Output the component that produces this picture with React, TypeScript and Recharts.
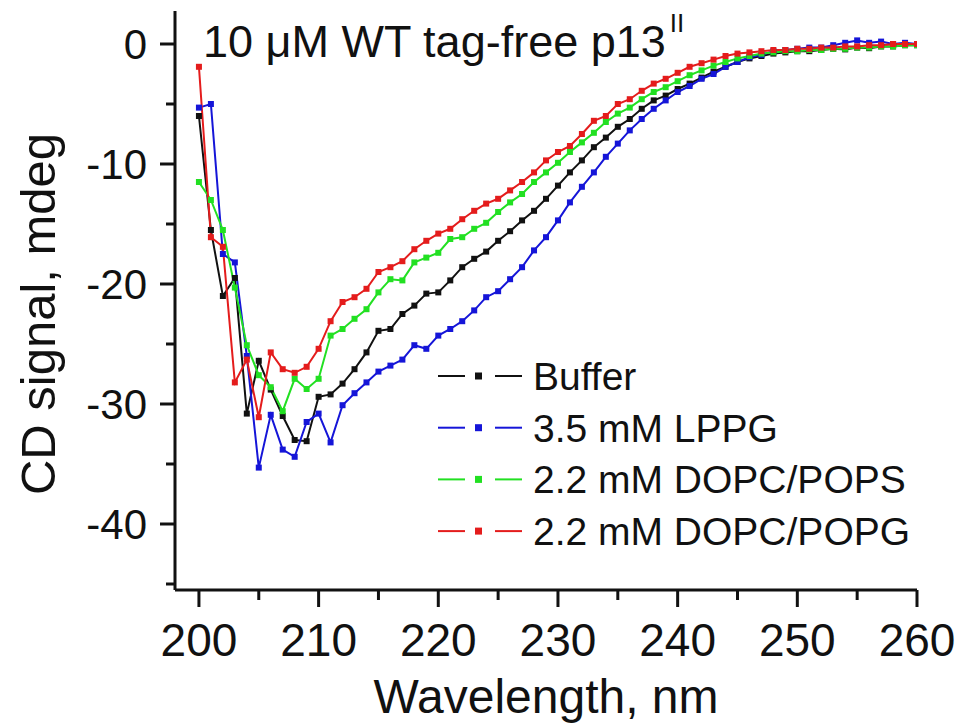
import { Line, LineChart, XAxis, YAxis } from 'recharts';

// wavelength, nm
const wavelength = [
  200, 201, 202, 203, 204, 205, 206, 207, 208, 209, 210, 211, 212, 213, 214, 215, 216, 217, 218, 219, 220,
  221, 222, 223, 224, 225, 226, 227, 228, 229, 230, 231, 232, 233, 234, 235, 236, 237, 238, 239, 240,
  241, 242, 243, 244, 245, 246, 247, 248, 249, 250, 251, 252, 253, 254, 255, 256, 257, 258, 259, 260,
];

// CD signal, mdeg
const buffer = [
  -6.0, -15.5, -21.0, -19.5, -30.8, -26.4, -28.8, -31.0, -33.0, -33.1, -29.4, -29.2, -28.3, -27.1, -25.7, -23.9, -23.75, -22.5, -21.8, -20.8, -20.7,
  -19.7, -18.6, -17.9, -17.3, -16.4, -15.6, -14.7, -13.9, -12.9, -11.8, -10.7, -9.7, -8.6, -7.8, -6.9, -6.25, -5.4, -4.7, -4.3, -3.75,
  -3.3, -2.8, -2.3, -1.9, -1.5, -1.2, -1.0, -0.8, -0.7, -0.6, -0.6, -0.5, -0.4, -0.45, -0.3, -0.35, -0.2, -0.2, -0.1, -0.1,
];
const lppg = [
  -5.3, -5.0, -17.5, -18.2, -26.0, -35.3, -30.9, -33.8, -34.4, -31.5, -30.8, -33.2, -30.1, -29.1, -28.2, -27.3, -26.8, -26.3, -25.1, -25.4, -24.3,
  -23.75, -23.1, -22.2, -21.1, -20.6, -19.6, -18.6, -17.2, -16.1, -14.7, -13.2, -11.9, -10.7, -9.4, -8.3, -7.2, -6.25, -5.4, -4.7, -4.0,
  -3.5, -2.9, -2.5, -1.9, -1.5, -1.1, -0.9, -0.6, -0.5, -0.4, -0.3, -0.3, -0.1, 0.1, 0.3, 0.1, 0.2, 0.0, 0.1, 0.0,
];
const dopcPops = [
  -11.5, -13.0, -15.5, -20.3, -25.1, -27.6, -28.6, -30.6, -27.9, -28.75, -27.9, -24.3, -23.75, -22.9, -22.1, -20.7, -19.6, -19.7, -18.2, -17.8, -17.4,
  -16.25, -16.1, -15.4, -14.9, -14.0, -13.2, -12.5, -11.5, -10.7, -9.9, -9.0, -8.2, -7.4, -6.5, -5.8, -5.3, -4.6, -4.0, -3.6, -3.1,
  -2.6, -2.2, -1.8, -1.5, -1.2, -1.0, -0.8, -0.7, -0.6, -0.6, -0.5, -0.5, -0.4, -0.4, -0.3, -0.3, -0.2, -0.2, -0.1, -0.1,
];
const dopcPopg = [
  -1.9, -16.1, -16.9, -28.2, -26.3, -31.1, -25.7, -27.1, -27.4, -26.9, -25.4, -23.1, -21.5, -21.1, -20.4, -19.0, -18.6, -18.1, -17.1, -16.4, -15.8,
  -15.4, -14.6, -13.9, -13.3, -12.9, -12.2, -11.5, -10.7, -9.7, -9.0, -8.5, -7.5, -6.4, -6.0, -5.0, -4.6, -3.9, -3.3, -2.9, -2.4,
  -1.9, -1.6, -1.3, -1.0, -0.8, -0.7, -0.6, -0.5, -0.5, -0.4, -0.4, -0.3, -0.3, -0.2, -0.2, -0.1, -0.1, 0.0, 0.0, 0.0,
];

const xTicks = [200, 205, 210, 215, 220, 225, 230, 235, 240, 245, 250, 255, 260];
const yTicks = [0, -5, -10, -15, -20, -25, -30, -35, -40, -45];

const series = [
  { key: 'buffer', name: 'Buffer', color: '#111111', values: buffer },
  { key: 'lppg', name: '3.5 mM LPPG', color: '#1515d8', values: lppg },
  { key: 'dopcPops', name: '2.2 mM DOPC/POPS', color: '#22e022', values: dopcPops },
  { key: 'dopcPopg', name: '2.2 mM DOPC/POPG', color: '#e41c1c', values: dopcPopg },
];

const data = wavelength.map((wl, i) => {
  const row: Record<string, number> = { wl };
  series.forEach((s) => (row[s.key] = s.values[i]));
  return row;
});

const FONT = '"Liberation Sans", Arial, Helvetica, sans-serif';
const INK = '#111';

const XTick = (props: any) => {
  const { x, y, payload } = props;
  const axisY = y - 4;
  const major = payload.value % 10 === 0;
  return (
    <g>
      <line x1={x} x2={x} y1={axisY} y2={axisY + (major ? 17 : 10)} stroke={INK} strokeWidth={3} />
      {major && (
        <text x={x} y={axisY + 66} textAnchor="middle" fontSize={46} fontFamily={FONT} fill={INK}>
          {payload.value}
        </text>
      )}
    </g>
  );
};

const YTick = (props: any) => {
  const { x, y, payload } = props;
  const axisX = x + 4;
  const major = payload.value % 10 === 0;
  return (
    <g>
      <line x1={axisX - (major ? 15 : 9)} x2={axisX} y1={y} y2={y} stroke={INK} strokeWidth={3} />
      {major && (
        <text x={axisX - 28} y={y} dy="0.36em" textAnchor="end" fontSize={42} fontFamily={FONT} fill={INK}>
          {payload.value}
        </text>
      )}
    </g>
  );
};

const squareDot = (color: string) => (p: any) => (
  <rect key={`d-${p.index}`} x={p.cx - 3} y={p.cy - 3} width={6} height={6} fill={color} />
);

export default function App() {
  return (
    <div style={{ position: 'relative', width: 955, height: 716, background: '#fff' }}>
      <LineChart width={955} height={716} data={data} margin={{ top: 3, right: 46, left: 67, bottom: 34 }}>
        <XAxis
          dataKey="wl"
          type="number"
          domain={[198, 260]}
          ticks={xTicks}
          interval={0}
          height={100}
          tickSize={0}
          tickMargin={4}
          tick={<XTick />}
          axisLine={{ stroke: INK, strokeWidth: 3 }}
          allowDataOverflow
        />
        <YAxis
          type="number"
          domain={[-45.5, 2.75]}
          ticks={yTicks}
          interval={0}
          width={100}
          tickSize={0}
          tickMargin={4}
          tick={<YTick />}
          axisLine={{ stroke: INK, strokeWidth: 3 }}
          allowDataOverflow
        />
        {series.map((s) => (
          <Line
            key={s.key}
            dataKey={s.key}
            name={s.name}
            type="linear"
            stroke={s.color}
            strokeWidth={2}
            dot={squareDot(s.color)}
            activeDot={false}
            isAnimationActive={false}
          />
        ))}
      </LineChart>

      <svg
        width={955}
        height={716}
        style={{ position: 'absolute', left: 0, top: 0, pointerEvents: 'none' }}
        fontFamily={FONT}
      >
        <text x={195} y={49} fontSize={45} fill={INK}>
          10 μM WT tag-free p13
          <tspan dx={4} dy={-25} fontSize={26}>II</tspan>
        </text>
        <text x={538} y={705} textAnchor="middle" fontSize={48} fill={INK}>
          Wavelength, nm
        </text>
        <text x={47} y={306} transform="rotate(-90 47 306)" textAnchor="middle" fontSize={49} fill={INK}>
          CD signal, mdeg
        </text>
        {series.map((s, i) => {
          const cy = 368 + i * 51.7;
          return (
            <g key={s.key}>
              <line x1={430} x2={457} y1={cy} y2={cy} stroke={s.color} strokeWidth={2} />
              <rect x={467} y={cy - 3.5} width={7} height={7} fill={s.color} />
              <line x1={487} x2={514} y1={cy} y2={cy} stroke={s.color} strokeWidth={2} />
              <text x={525} y={cy} dy="0.36em" fontSize={39} fill={INK}>
                {s.name}
              </text>
            </g>
          );
        })}
      </svg>
    </div>
  );
}
